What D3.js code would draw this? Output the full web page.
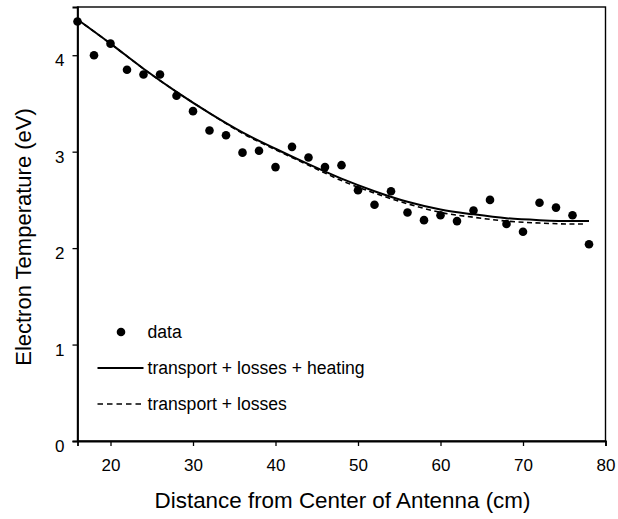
<!DOCTYPE html>
<html>
<head>
<meta charset="utf-8">
<script src="https://cdn.jsdelivr.net/npm/d3@7"></script>
<style>
  body { margin: 0; background: #fff; }
  svg { display: block; font-family: "Liberation Sans", Arial, sans-serif; }
  .axis text { font-size: 17px; fill: #000; }
  .axis line { stroke: #000; stroke-width: 1.3; }
</style>
</head>
<body>
<svg width="618" height="519"></svg>
<script>
const dataX = [16, 18, 20, 22, 24, 26, 28, 30, 32, 34, 36, 38, 40, 42, 44, 46,
  48, 50, 52, 54, 56, 58, 60, 62, 64, 66, 68, 70, 72, 74, 76, 78];
const dataT = [4.35, 4.0, 4.12, 3.85, 3.8, 3.8, 3.58, 3.42, 3.22, 3.17, 2.99, 3.01,
  2.84, 3.05, 2.94, 2.84, 2.86, 2.6, 2.45, 2.59, 2.37, 2.29, 2.34, 2.28,
  2.39, 2.5, 2.25, 2.17, 2.47, 2.42, 2.34, 2.04];

const heatX = [16, 20, 24, 28, 32, 36, 40, 44, 48, 52, 56, 60, 64, 68, 72, 76, 78];
const heatT = [4.37, 4.12, 3.86, 3.62, 3.4, 3.2, 3.03, 2.87, 2.72, 2.59, 2.48,
  2.4, 2.35, 2.31, 2.29, 2.28, 2.28];

const lossX = [16, 20, 24, 28, 32, 36, 40, 44, 48, 52, 56, 60, 64, 68, 72, 76, 77.3];
const lossT = [4.37, 4.12, 3.86, 3.62, 3.4, 3.19, 3.02, 2.86, 2.7, 2.57, 2.46,
  2.37, 2.32, 2.28, 2.26, 2.25, 2.25];

const xTicks = [20, 30, 40, 50, 60, 70, 80];
const yTicks = [0, 1, 2, 3, 4];

const legendItems = ["data", "transport + losses + heating", "transport + losses"];

const svg = d3.select("svg");
const margin = { left: 77.5, right: 12.5, top: 7, bottom: 78 };
const W = 618, H = 519;

const x = d3.scaleLinear().domain([16, 80]).range([margin.left, W - margin.right]);
const y = d3.scaleLinear().domain([0, 4.5]).range([H - margin.bottom, margin.top]);

// frame
svg.append("rect")
  .attr("x", x(16)).attr("y", y(4.5))
  .attr("width", x(80) - x(16)).attr("height", y(0) - y(4.5))
  .attr("fill", "none").attr("stroke", "#000").attr("stroke-width", 1.4);

const xAxis = svg.append("g")
  .attr("class", "axis")
  .attr("transform", `translate(0,${y(0)})`)
  .call(d3.axisBottom(x).tickValues(xTicks).tickFormat(d3.format("d")).tickSize(5).tickPadding(13));
xAxis.select(".domain").attr("stroke-width", 1.8);

const yAxis = svg.append("g")
  .attr("class", "axis")
  .attr("transform", `translate(${x(16)},0)`)
  .call(d3.axisLeft(y).tickValues(yTicks).tickFormat(d3.format("d")).tickSize(5).tickPadding(8));
yAxis.select(".domain").attr("stroke-width", 1.8);
yAxis.selectAll("text").attr("dy", "0.62em");

// axis titles
svg.append("text")
  .attr("x", (x(16) + x(80)) / 2 + 1)
  .attr("y", 508)
  .attr("text-anchor", "middle")
  .attr("font-size", 22.4)
  .text("Distance from Center of Antenna (cm)");

svg.append("text")
  .attr("transform", `translate(31,${(y(0) + y(4.5)) / 2 + 13}) rotate(-90)`)
  .attr("text-anchor", "middle")
  .attr("font-size", 22)
  .text("Electron Temperature (eV)");

// model curves
const line = d3.line()
  .x((d) => x(d[0]))
  .y((d) => y(d[1]))
  .curve(d3.curveMonotoneX);

svg.append("path")
  .datum(lossX.map((v, i) => [v, lossT[i]]))
  .attr("d", line)
  .attr("fill", "none")
  .attr("stroke", "#000")
  .attr("stroke-width", 1.6)
  .attr("stroke-dasharray", "5,3.5");

svg.append("path")
  .datum(heatX.map((v, i) => [v, heatT[i]]))
  .attr("d", line)
  .attr("fill", "none")
  .attr("stroke", "#000")
  .attr("stroke-width", 2);

// data points
svg.append("g")
  .selectAll("circle")
  .data(dataX.map((v, i) => [v, dataT[i]]))
  .join("circle")
  .attr("cx", (d) => x(d[0]))
  .attr("cy", (d) => y(d[1]))
  .attr("r", 4.3)
  .attr("fill", "#000");

// legend
const legend = svg.append("g").attr("transform", "translate(0,332)");
const rowGap = 36;
legendItems.forEach((label, i) => {
  const g = legend.append("g").attr("transform", `translate(0,${i * rowGap})`);
  if (i === 0) {
    g.append("circle").attr("cx", 121).attr("cy", 0).attr("r", 4.3).attr("fill", "#000");
  } else {
    g.append("line")
      .attr("x1", 97.5).attr("x2", 143.5)
      .attr("y1", 0).attr("y2", 0)
      .attr("stroke", "#000")
      .attr("stroke-width", i === 1 ? 2 : 1.4)
      .attr("stroke-dasharray", i === 2 ? "5.5,4" : null);
  }
  g.append("text")
    .attr("x", 147.5)
    .attr("y", 0)
    .attr("dy", "0.35em")
    .attr("font-size", 17.6)
    .text(label);
});
</script>
</body>
</html>
